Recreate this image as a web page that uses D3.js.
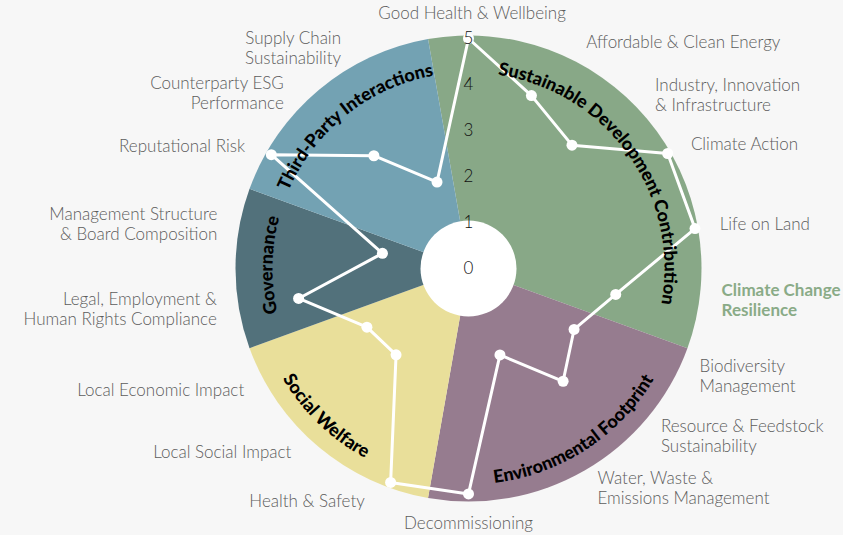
<!DOCTYPE html>
<html>
<head>
<meta charset="utf-8">
<script src="https://cdn.jsdelivr.net/npm/d3@7"></script>
<style>
    body { margin: 0; background: #f7f7f7; }
    svg { display: block; }
    .cat-label { font-family: Lato, "Open Sans", sans-serif; font-size: 17px; font-weight: 300; fill: #5c5c5c; }
    .cat-label.hl { fill: #8aab87; font-weight: 700; }
    .tick-label { font-family: Lato, sans-serif; font-size: 17px; font-weight: 300; fill: #111; }
    .group-label { font-family: Lato, sans-serif; font-size: 18px; font-weight: 900; fill: #000; }
</style>
</head>
<body>
<div id="chart"></div>
<script>
// categories, clockwise from the top ("\n" = line break in the label)
var categories = [
    "Good Health & Wellbeing",
    "Affordable & Clean Energy",
    "Industry, Innovation\n& Infrastructure",
    "Climate Action",
    "Life on Land",
    "Climate Change\nResilience",
    "Biodiversity\nManagement",
    "Resource & Feedstock\nSustainability",
    "Water, Waste &\nEmissions Management",
    "Decommissioning",
    "Health & Safety",
    "Local Social Impact",
    "Local Economic Impact",
    "Legal, Employment &\nHuman Rights Compliance",
    "Management Structure\n& Board Composition",
    "Reputational Risk",
    "Counterparty ESG\nPerformance",
    "Supply Chain\nSustainability"
];
var scores = [5, 4, 3.5, 5, 5, 3.25, 2.65, 3.2, 2, 4.9, 4.95, 2.45, 2.55, 3.75, 1.9, 4.95, 3.2, 2];

var groups = ["Sustainable Development Contribution", "Environmental Footprint", "Social Welfare", "Governance", "Third-Party Interactions"];
var groupSizes = [6, 4, 3, 2, 3];
var groupColors = ["#88a887", "#967c8f", "#e9df9a", "#52717b", "#73a2b3"];

var ticks = [0, 1, 2, 3, 4, 5];
var highlighted = "Climate Change\nResilience";

// layout only: small angular nudges (deg) so outer labels clear the wheel
var labelShift = [0.8, 7.5, 7, 0.7, 0, -3, -5, -9, -10.4, 0, 4, 4, 1.6, 0.8, 0, -1.2, -6.4, -10];
// layout only: angular nudges (deg) for the curved group titles
var titleShift = [4.5, -3, 4, 1, 1.5];

var W = 843, H = 535,
    cx = 468.5, cy = 268.5,
    outerR = 233,
    innerR = 48,
    labelR = 255,
    step = 2 * Math.PI / categories.length;

var rad = Math.PI / 180;

var r = d3.scaleLinear().domain([0, 5]).range([0, 230]);

var svg = d3.select('#chart')
    .append('svg')
    .attr('width', W)
    .attr('height', H);

svg.append('rect').attr('width', W).attr('height', H).attr('fill', '#f7f7f7');

var defs = svg.append('defs');

var g = svg.append('g')
    .attr('transform', 'translate(' + cx + ',' + cy + ')');

// group sectors
var sectors = [];
var idx = 0;
groups.forEach(function(name, i) {
    sectors.push({
        name: name,
        color: groupColors[i],
        start: idx * step - step / 2,
        end: (idx + groupSizes[i]) * step - step / 2
    });
    idx += groupSizes[i];
});

var arc = d3.arc().innerRadius(0).outerRadius(outerR);

g.selectAll('path.sector')
    .data(sectors)
    .enter()
    .append('path')
    .attr('class', 'sector')
    .attr('d', function(d) { return arc({ startAngle: d.start, endAngle: d.end }); })
    .attr('fill', function(d) { return d.color; });

g.append('circle').attr('r', innerR).attr('fill', '#fff');

// score line
var line = d3.lineRadial()
    .angle(function(d, i) { return i * step; })
    .radius(function(d) { return r(d); })
    .curve(d3.curveLinearClosed);

g.append('path')
    .datum(scores)
    .attr('d', line)
    .attr('fill', 'none')
    .attr('stroke', '#fff')
    .attr('stroke-width', 3)
    .attr('stroke-linejoin', 'round');

g.selectAll('circle.pt')
    .data(scores)
    .enter()
    .append('circle')
    .attr('class', 'pt')
    .attr('cx', function(d, i) { return d3.pointRadial(i * step, r(d))[0]; })
    .attr('cy', function(d, i) { return d3.pointRadial(i * step, r(d))[1]; })
    .attr('r', 5.5)
    .attr('fill', '#fff');

// scale numbers up the top axis
g.selectAll('text.tick-label')
    .data(ticks)
    .enter()
    .append('text')
    .attr('class', 'tick-label')
    .attr('x', 0)
    .attr('y', function(d) { return -r(d); })
    .attr('dy', '0.35em')
    .attr('text-anchor', 'middle')
    .text(function(d) { return d; });

// category labels round the outside
g.selectAll('text.cat-label')
    .data(categories)
    .enter()
    .append('text')
    .attr('class', function(d) { return 'cat-label' + (d == highlighted ? ' hl' : ''); })
    .attr('text-anchor', function(d, i) {
        var s = Math.sin(i * step);
        if (Math.abs(s) < 1e-6) return 'middle';
        return s > 0 ? 'start' : 'end';
    })
    .each(function(d, i) {
        var a = i * step + labelShift[i] * rad;
        var p = d3.pointRadial(a, labelR);
        var lines = d.split('\n');
        var lh = 20;
        var top = p[1] - (lines.length - 1) * lh / 2;
        var t = d3.select(this);
        lines.forEach(function(l, k) {
            t.append('tspan')
                .attr('x', p[0])
                .attr('y', top + k * lh)
                .attr('dy', '0.35em')
                .text(l);
        });
    });

// curved group titles (paths share the centred coordinates of g)
sectors.forEach(function(s, i) {
    var mid = (s.start + s.end) / 2 / rad;
    var flip = mid > 90 && mid < 270;
    var a0 = s.start + titleShift[i] * rad - Math.PI / 2,
        a1 = s.end + titleShift[i] * rad - Math.PI / 2;
    var p = d3.path();
    var rr;
    if (flip) {
        rr = 216;
        p.moveTo(rr * Math.cos(a1), rr * Math.sin(a1));
        p.arc(0, 0, rr, a1, a0, true);
    } else {
        rr = 196;
        p.moveTo(rr * Math.cos(a0), rr * Math.sin(a0));
        p.arc(0, 0, rr, a0, a1, false);
    }
    defs.append('path')
        .attr('id', 'grp' + i)
        .attr('d', p.toString());

    g.append('text')
        .attr('class', 'group-label')
        .append('textPath')
        .attr('href', '#grp' + i)
        .attr('startOffset', '50%')
        .attr('text-anchor', 'middle')
        .text(s.name);
});
</script>
</body>
</html>
